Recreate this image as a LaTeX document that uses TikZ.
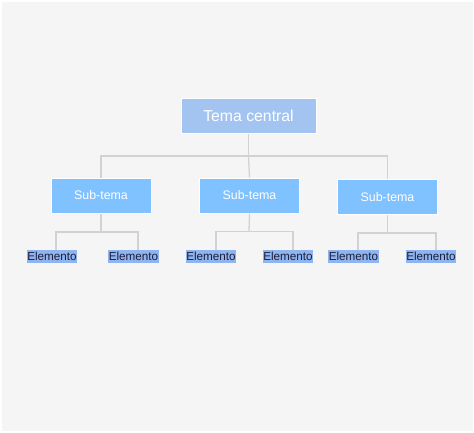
\documentclass[tikz,border=0pt]{standalone}
\usepackage{fontspec}
\setmainfont{Liberation Sans}
\definecolor{bg}{HTML}{F5F5F5}
\definecolor{linec}{HTML}{D2D2D2}
\definecolor{maincol}{HTML}{A3C4F0}
\definecolor{subcol}{HTML}{80C1FF}
\definecolor{elecol}{HTML}{8FB5F0}
\definecolor{eletext}{HTML}{1C1C3A}
\begin{document}
\begin{tikzpicture}[x=1pt,y=-1pt,
  mainbox/.style={fill=maincol,draw=white,line width=1pt,minimum width=135pt,minimum height=35pt,inner sep=0pt,text=white,font=\fontsize{15.8}{18}\selectfont},
  subbox/.style={fill=subcol,draw=white,line width=1pt,minimum width=100pt,minimum height=35pt,inner sep=0pt,text=white,font=\fontsize{12.4}{14}\selectfont},
  elem/.style={fill=elecol,inner xsep=0.5pt,inner ysep=0pt,minimum height=12.5pt,text=eletext,font=\fontsize{11.7}{12}\selectfont},
  conn/.style={draw=linec,line width=1.3pt}]
\fill[white] (0,0) rectangle (474,432);
\fill[bg] (1.5,1.5) rectangle (472.5,430.5);
\useasboundingbox (0,0) rectangle (474,432);
% nodes
\node[mainbox] (m) at (248.5,115.5) {Tema central};
\node[subbox] (s1) at (101,195.5) {Sub-tema};
\node[subbox] (s2) at (249.5,195.5) {Sub-tema};
\node[subbox] (s3) at (387.5,197) {Sub-tema};
\node[elem] (e11) at (52,256.5) {Elemento};
\node[elem] (e12) at (133.5,256.5) {Elemento};
\node[elem] (e21) at (211,256.5) {Elemento};
\node[elem] (e22) at (288,256.5) {Elemento};
\node[elem] (e31) at (353.5,256.5) {Elemento};
\node[elem] (e32) at (431,256.5) {Elemento};
% coordinates
\coordinate (mb) at (248.5,156);
\coordinate (b1) at (101,232);
\coordinate (b2) at (249,231.5);
\coordinate (b3) at (387.5,233);
% connectors
\draw[conn] (m.south) -- (mb);
\draw[conn] (s1.north) |- (mb) -| (s3.north);
\draw[conn] (mb) -- (s2.north);
\draw[conn] (s1.south) -- (b1);
\draw[conn] ([xshift=4pt]e11.north) |- (b1) -| ([xshift=4.5pt]e12.north);
\draw[conn] (s2.south) -- (b2);
\draw[conn] ([xshift=5pt]e21.north) |- (b2) -| ([xshift=5pt]e22.north);
\draw[conn] (s3.south) -- (b3);
\draw[conn] ([xshift=4.5pt]e31.north) |- (b3) -| ([xshift=5pt]e32.north);
\end{tikzpicture}
\end{document}
